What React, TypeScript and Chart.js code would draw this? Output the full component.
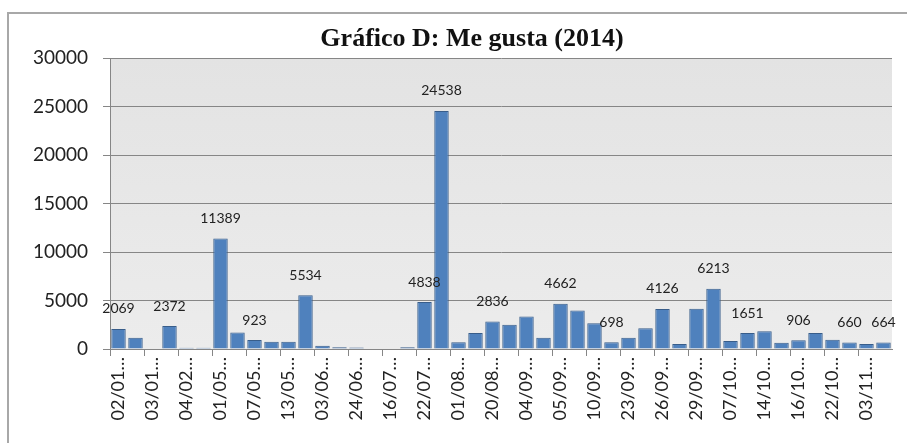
import React, { useEffect, useRef } from 'react';
import { Chart, registerables } from 'chart.js';

Chart.register(...registerables);

const TITLE = 'Gráfico D: Me gusta (2014)';

// One label every second category (as in the original, truncated with an ellipsis)
const tickLabels = [
  '02/01…', '03/01…', '04/02…', '01/05…', '07/05…', '13/05…', '03/06…', '24/06…',
  '16/07…', '22/07…', '01/08…', '20/08…', '04/09…', '05/09…', '10/09…', '23/09…',
  '26/09…', '29/09…', '07/10…', '14/10…', '16/10…', '22/10…', '03/11…',
];

const values = [
  2069, 1170, 0, 2372, 130, 130, 11389, 1690, 923, 750,
  750, 5534, 340, 180, 150, 0, 0, 170, 4838, 24538,
  690, 1660, 2836, 2500, 3350, 1170, 4662, 3970, 2660, 698,
  1170, 2140, 4126, 520, 4150, 6213, 830, 1651, 1830, 650,
  906, 1660, 960, 660, 520, 664,
];

const labeledIndices = [0, 3, 6, 8, 11, 18, 19, 22, 26, 29, 32, 35, 37, 40, 43, 45];

const yMin = 0;
const yMax = 30000;
const yStep = 5000;

const categories = values.map((_, i) => (i % 2 === 0 ? tickLabels[i / 2] ?? '' : ''));

const plotBg = {
  id: 'plotBg',
  beforeDraw(chart: any) {
    const { ctx, chartArea } = chart;
    if (!chartArea) return;
    const g = ctx.createLinearGradient(0, chartArea.top, 0, chartArea.bottom);
    g.addColorStop(0, '#e3e3e3');
    g.addColorStop(1, '#ececec');
    ctx.save();
    ctx.fillStyle = g;
    ctx.fillRect(chartArea.left, chartArea.top, chartArea.right - chartArea.left, chartArea.bottom - chartArea.top);
    ctx.restore();
  },
};

const titlePlugin = {
  id: 'titleText',
  afterDraw(chart: any) {
    const { ctx } = chart;
    ctx.save();
    ctx.font = 'bold 26px "Liberation Serif", "Times New Roman", serif';
    ctx.fillStyle = '#111111';
    ctx.textAlign = 'center';
    ctx.textBaseline = 'alphabetic';
    ctx.fillText(TITLE, 472, 46);
    ctx.restore();
  },
};

const dataLabels = {
  id: 'dataLabels',
  afterDatasetsDraw(chart: any) {
    const { ctx } = chart;
    const meta = chart.getDatasetMeta(0);
    ctx.save();
    ctx.font = '14px Lato';
    ctx.fillStyle = '#222222';
    ctx.textAlign = 'center';
    ctx.textBaseline = 'middle';
    labeledIndices.forEach((i) => {
      const el = meta.data[i];
      if (!el) return;
      ctx.fillText(String(values[i]), el.x, el.y - 20);
    });
    ctx.restore();
  },
};

export default function App() {
  const ref = useRef<HTMLCanvasElement | null>(null);

  useEffect(() => {
    if (!ref.current) return;
    const chart = new Chart(ref.current, {
      type: 'bar',
      data: {
        labels: categories,
        datasets: [
          {
            data: values,
            backgroundColor: '#4f81bd',
            borderColor: '#385d8a',
            borderWidth: 1,
            categoryPercentage: 1,
            barPercentage: 0.85,
          },
        ],
      },
      options: {
        responsive: false,
        animation: false,
        layout: { padding: { left: 10, right: 15, top: 58, bottom: 0 } },
        plugins: {
          legend: { display: false },
          tooltip: { enabled: false },
          title: { display: false },
        },
        scales: {
          x: {
            afterFit(scale: any) {
              scale.height = 97;
            },
            grid: {
              offset: true,
              drawOnChartArea: false,
              tickLength: 7,
              color: (ctx: any) => (ctx.index % 2 === 0 ? '#868686' : 'rgba(0,0,0,0)'),
            },
            border: { color: '#868686' },
            ticks: {
              autoSkip: false,
              maxRotation: 90,
              minRotation: 90,
              padding: 1,
              color: '#222222',
              font: { family: 'Lato', size: 18 },
            },
          },
          y: {
            min: yMin,
            max: yMax,
            afterFit(scale: any) {
              scale.width = 100;
            },
            grid: { color: '#868686', tickLength: 7 },
            border: { color: '#868686' },
            ticks: {
              stepSize: yStep,
              padding: 15,
              color: '#222222',
              font: { family: 'Lato', size: 19 },
              callback: (v: any) => String(v),
            },
          },
        },
      },
      plugins: [plotBg, dataLabels, titlePlugin],
    });
    return () => chart.destroy();
  }, []);

  return (
    <div style={{ position: 'fixed', left: 0, top: 0, width: 907, height: 446, background: '#ffffff', overflow: 'hidden' }}>
      <div
        style={{
          position: 'absolute',
          left: 7,
          top: 12,
          width: 1000,
          height: 431,
          borderLeft: '2px solid #a8a8a8',
          borderTop: '2px solid #a8a8a8',
          boxSizing: 'border-box',
        }}
      />
      <canvas ref={ref} width={907} height={446} style={{ position: 'absolute', left: 0, top: 0, width: 907, height: 446 }} />
    </div>
  );
}
